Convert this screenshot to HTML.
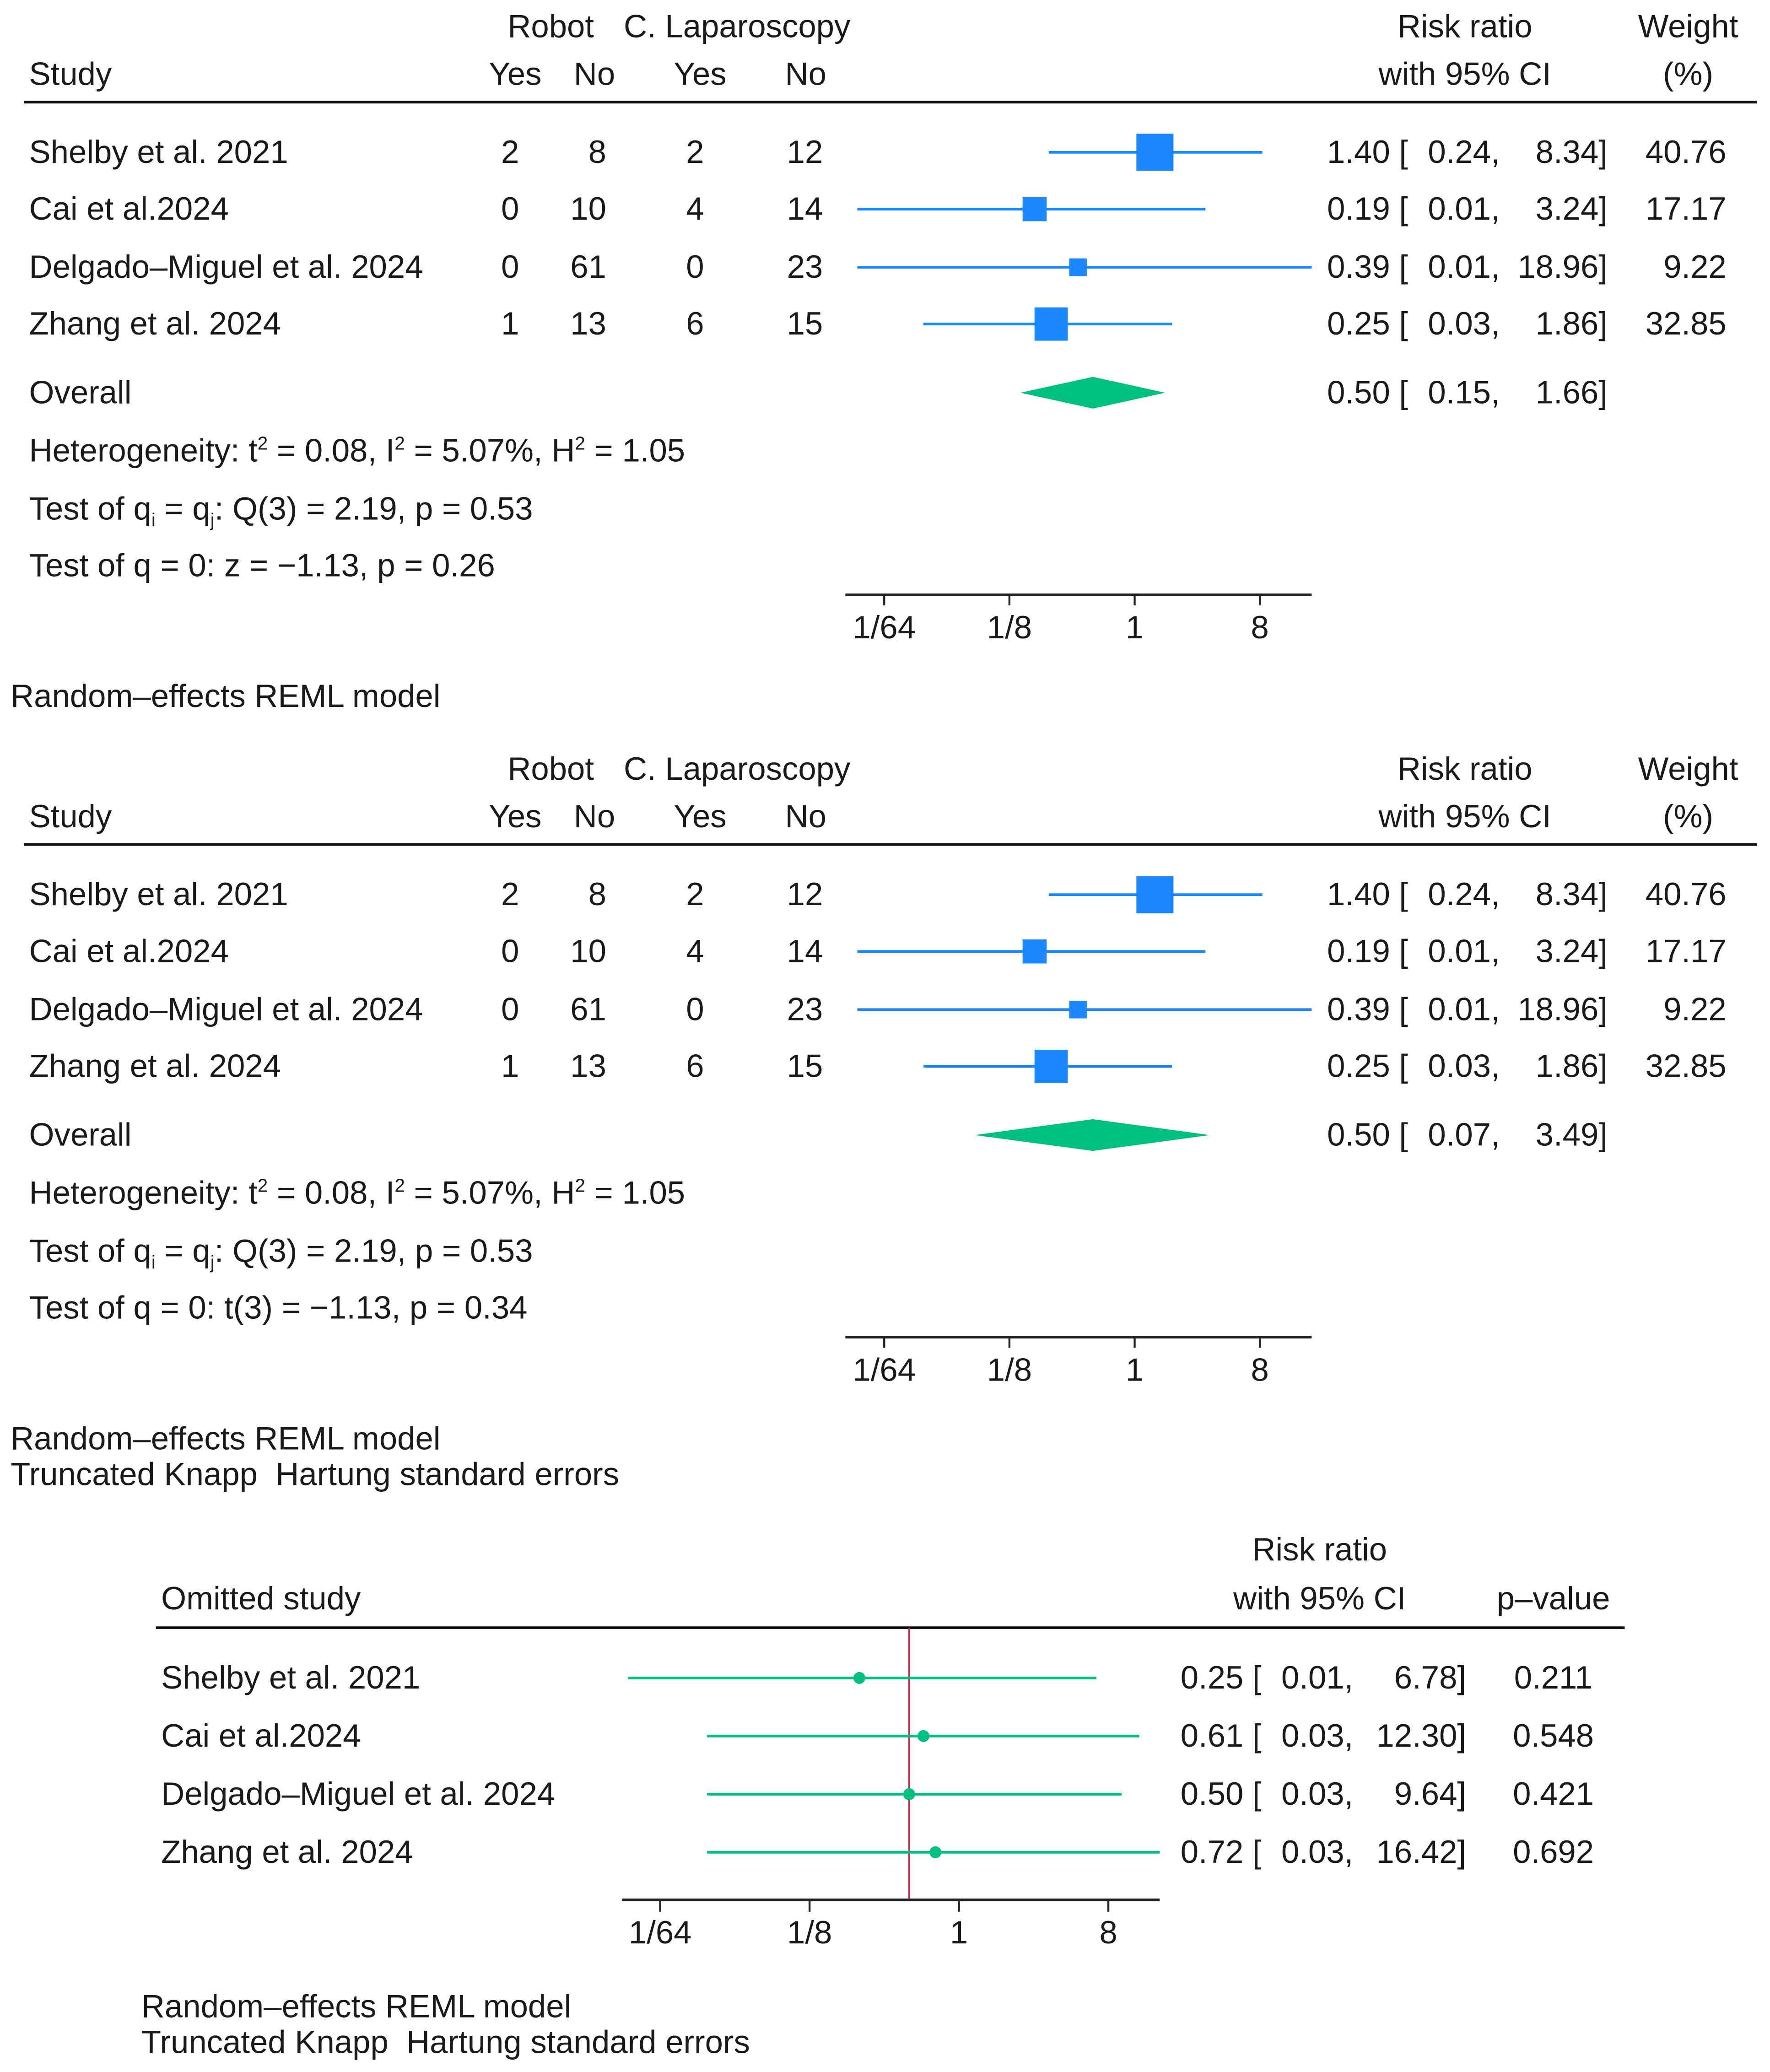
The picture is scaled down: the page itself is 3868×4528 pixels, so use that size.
<!DOCTYPE html>
<html><head><meta charset="utf-8">
<style>
html,body{margin:0;padding:0;background:#fff;}
svg{display:block;}
text{font-family:"Liberation Sans",sans-serif;font-size:24.5px;fill:#1a1a1a;}
</style></head>
<body>
<svg id="chart" width="3868" height="4528" viewBox="0 0 1340 1568" xmlns="http://www.w3.org/2000/svg"></svg>
<script>
const studies = ["Shelby et al. 2021","Cai et al.2024","Delgado\u2013Miguel et al. 2024","Zhang et al. 2024"];
const robotYes = [2,0,0,1];
const robotNo = [8,10,61,13];
const lapYes = [2,4,0,6];
const lapNo = [12,14,23,15];
const rr = [1.40,0.19,0.39,0.25];
const lo = [0.24,0.01,0.01,0.03];
const hi = [8.34,3.24,18.96,1.86];
const weights = [40.76,17.17,9.22,32.85];
const overallRR = [0.50,0.50];
const overallLo = [0.15,0.07];
const overallHi = [1.66,3.49];
const tickVals = [1/64,1/8,1,8];
const tickLabels = ["1/64","1/8","1","8"];
const omitRR = [0.25,0.61,0.50,0.72];
const omitLo = [0.01,0.03,0.03,0.03];
const omitHi = [6.78,12.30,9.64,16.42];
const omitP = ["0.211","0.548","0.421","0.692"];
const overallEffect = 0.50;

const NS="http://www.w3.org/2000/svg";
const svg=document.getElementById('chart');
function el(tag,attrs,parent){const e=document.createElementNS(NS,tag);for(const k in attrs)e.setAttribute(k,attrs[k]);(parent||svg).appendChild(e);return e;}
function txt(x,y,s,anchor,name){const t=el('text',{x:x,y:y,'text-anchor':anchor||'start'});t.textContent=s;


return t;}
function f2(v){return v.toFixed(2);}
const BLUE="#1a87ff", GREEN="#00c07f";

function xA(v){return Math.max(640,Math.min(993,859+31.6*Math.log2(v)));}
function xB(v){return Math.max(471,Math.min(878,726+37.7*Math.log2(v)));}

function panel(dy,k,testLine,footer){
  const Y=v=>v+dy;
  txt(417,Y(28),"Robot","middle","robot-header");
  txt(558,Y(28),"C. Laparoscopy","middle","laparoscopy-header");
  txt(1109,Y(28),"Risk ratio","middle","risk-ratio-header");
  txt(1278,Y(28),"Weight","middle","weight-header");
  txt(22,Y(64),"Study","start","study-header");
  txt(390,Y(64),"Yes","middle","robot-yes-header");
  txt(450,Y(64),"No","middle","robot-no-header");
  txt(530,Y(64),"Yes","middle","lap-yes-header");
  txt(610,Y(64),"No","middle","lap-no-header");
  txt(1109,Y(64),"with 95% CI","middle","ci-header");
  txt(1278,Y(64),"(%)","middle","weight-unit-header");
  const hl=el('line',{x1:18,x2:1330,y1:Y(77),y2:Y(77),stroke:'#111','stroke-width':2});
  
  
  const rows=[115,158,202,245];
  for(let i=0;i<studies.length;i++){
    const y=Y(rows[i]);
    txt(22,y+8,studies[i],"start","study-name");
    txt(393,y+8,String(robotYes[i]),"end","robot-yes-value");
    txt(459,y+8,String(robotNo[i]),"end","robot-no-value");
    txt(533,y+8,String(lapYes[i]),"end","lap-yes-value");
    txt(623,y+8,String(lapNo[i]),"end","lap-no-value");
    const ci=el('line',{x1:xA(lo[i]),x2:xA(hi[i]),y1:y,y2:y,stroke:BLUE,'stroke-width':2});
    
    
    const s=4.4*Math.sqrt(weights[i]);
    const sq=el('rect',{x:xA(rr[i])-s/2,y:y-s/2,width:s,height:s,fill:BLUE});
    
    
    txt(1066,y+8,f2(rr[i])+" [","end","rr-value");
    txt(1081,y+8,f2(lo[i])+",","start","ci-lower");
    txt(1217,y+8,f2(hi[i])+"]","end","ci-upper");
    txt(1307,y+8,f2(weights[i]),"end","weight-value");
  }
  const oy=Y(297);
  txt(22,oy+8,"Overall","start","overall-label");
  const a=xA(overallLo[k]),b=xA(overallHi[k]),c=xA(overallRR[k]);
  const d=el('polygon',{points:`${a},${oy} ${c},${oy-12} ${b},${oy} ${c},${oy+12}`,fill:GREEN});
  
  
  txt(1066,oy+8,f2(overallRR[k])+" [","end","overall-rr");
  txt(1081,oy+8,f2(overallLo[k])+",","start","overall-ci-lower");
  txt(1217,oy+8,f2(overallHi[k])+"]","end","overall-ci-upper");
  const h=txt(22,Y(349),"","start","heterogeneity-stats");
  h.innerHTML='Heterogeneity: t<tspan dy="-9" font-size="14">2</tspan><tspan dy="9"> = 0.08, I</tspan><tspan dy="-9" font-size="14">2</tspan><tspan dy="9"> = 5.07%, H</tspan><tspan dy="-9" font-size="14">2</tspan><tspan dy="9"> = 1.05</tspan>';
  const q=txt(22,Y(393),"","start","homogeneity-test");
  q.innerHTML='Test of q<tspan dy="5" font-size="14">i</tspan><tspan dy="-5"> = q</tspan><tspan dy="5" font-size="14">j</tspan><tspan dy="-5">: Q(3) = 2.19, p = 0.53</tspan>';
  txt(22,Y(436),testLine,"start","effect-test");
  const ax=el('line',{x1:640,x2:993,y1:Y(450),y2:Y(450),stroke:'#222','stroke-width':2});
  
  
  for(let j=0;j<tickVals.length;j++){
    const x=xA(tickVals[j]);
    const t=el('line',{x1:x,x2:x,y1:Y(450),y2:Y(458),stroke:'#222','stroke-width':1.5});
    
    
    txt(x,Y(483),tickLabels[j],"middle","x-tick-label");
  }
  footer.forEach((s,i)=>txt(8,Y(535+i*27),s,"start","model-note"));
}
panel(0,0,"Test of q = 0: z = \u22121.13, p = 0.26",["Random\u2013effects REML model"]);
panel(562,1,"Test of q = 0: t(3) = \u22121.13, p = 0.34",["Random\u2013effects REML model","Truncated Knapp\u00a0 Hartung standard errors"]);

txt(999,1181,"Risk ratio","middle","loo-risk-ratio-header");
txt(999,1218,"with 95% CI","middle","loo-ci-header");
txt(1176,1218,"p\u2013value","middle","loo-pvalue-header");
txt(122,1218,"Omitted study","start","omitted-study-header");
const hr3=el('line',{x1:118,x2:1230,y1:1232,y2:1232,stroke:'#111','stroke-width':2});


const ref=el('line',{x1:xB(overallEffect),x2:xB(overallEffect),y1:1232,y2:1438,stroke:'#d0264a','stroke-width':1.3});


const rows3=[1270,1314,1358,1402];
for(let i=0;i<studies.length;i++){
  const y=rows3[i];
  txt(122,y+8,studies[i],"start","omitted-study-name");
  const ci=el('line',{x1:xB(omitLo[i]),x2:xB(omitHi[i]),y1:y,y2:y,stroke:GREEN,'stroke-width':2});
  
  
  const p=el('circle',{cx:xB(omitRR[i]),cy:y,r:4.5,fill:GREEN});
  
  
  txt(955,y+8,f2(omitRR[i])+" [","end","loo-rr");
  txt(970,y+8,f2(omitLo[i])+",","start","loo-ci-lower");
  txt(1110,y+8,f2(omitHi[i])+"]","end","loo-ci-upper");
  txt(1176,y+8,omitP[i],"middle","loo-pvalue");
}
const ax3=el('line',{x1:471,x2:878,y1:1438,y2:1438,stroke:'#222','stroke-width':2});


for(let j=0;j<tickVals.length;j++){
  const x=xB(tickVals[j]);
  const t=el('line',{x1:x,x2:x,y1:1438,y2:1447,stroke:'#222','stroke-width':1.5});
  
  
  txt(x,1471,tickLabels[j],"middle","loo-x-tick-label");
}
txt(107,1527,"Random\u2013effects REML model","start","loo-model-note");
txt(107,1554,"Truncated Knapp\u00a0 Hartung standard errors","start","loo-se-note");
</script>
</body></html>
